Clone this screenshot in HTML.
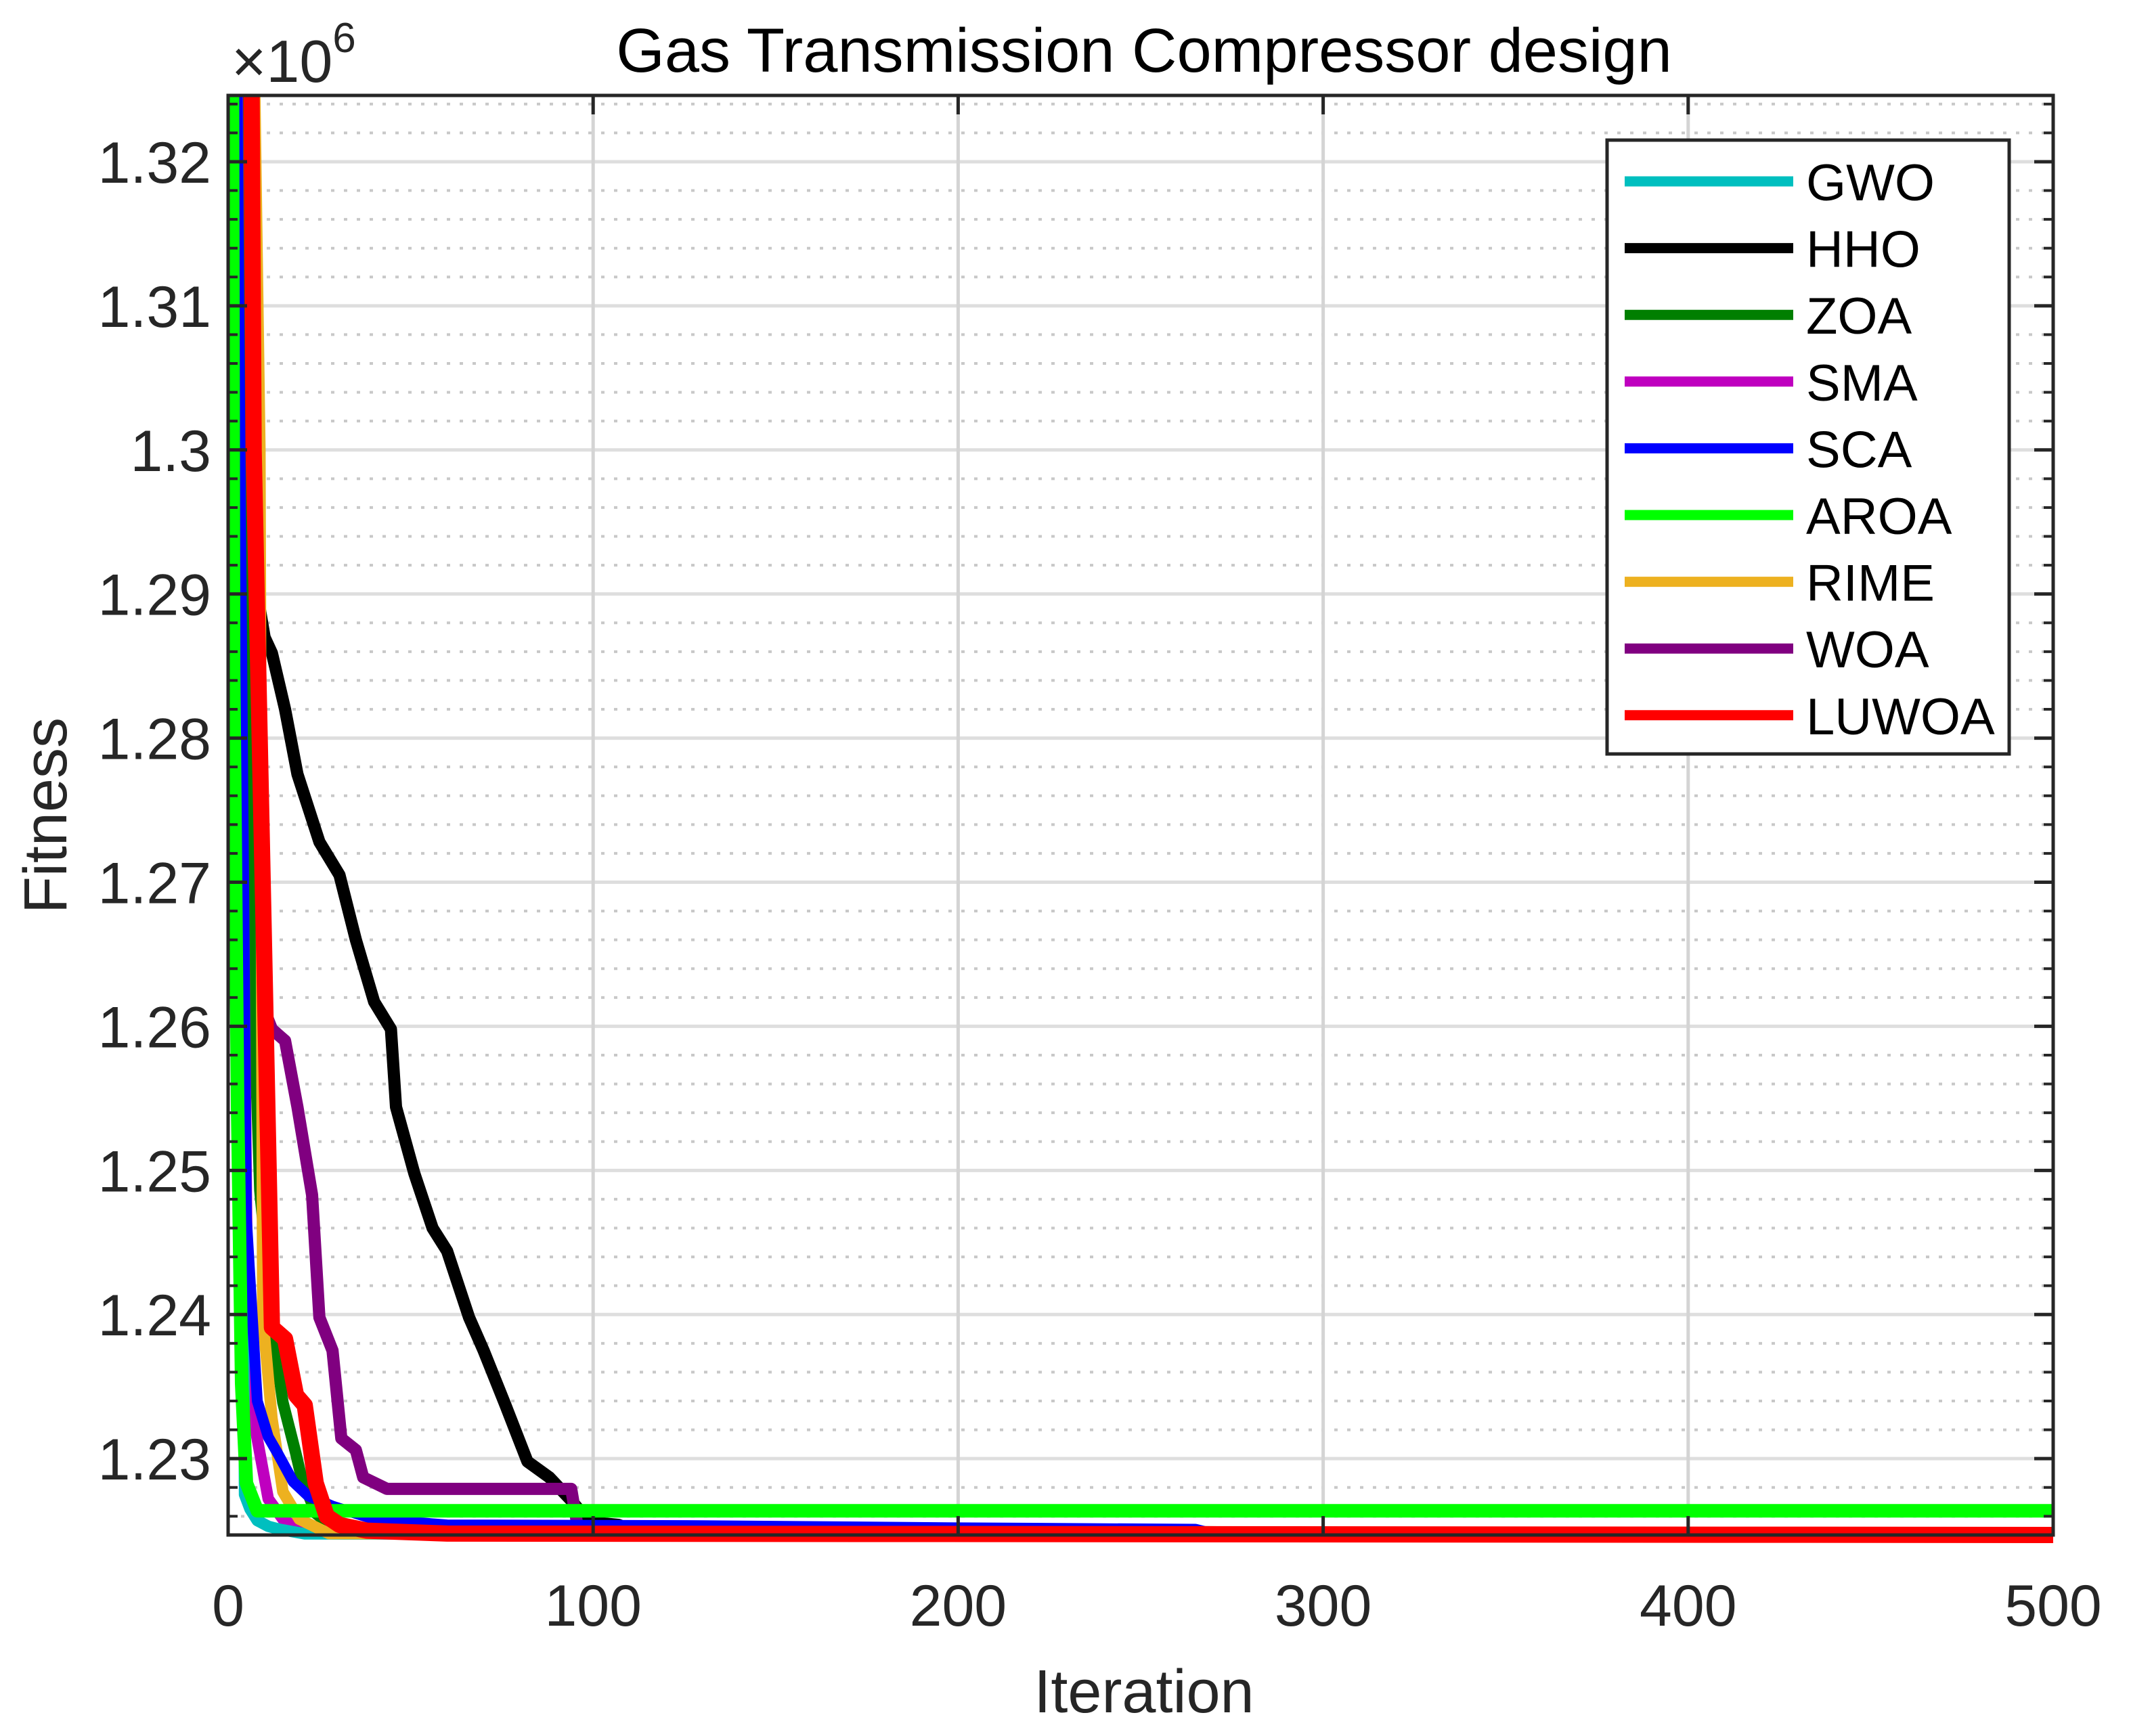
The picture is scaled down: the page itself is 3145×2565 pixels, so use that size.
<!DOCTYPE html>
<html><head><meta charset="utf-8"><style>
html,body{margin:0;padding:0;background:#fff;}
svg{display:block;font-family:"Liberation Sans",Arial,sans-serif;}
</style></head><body>
<svg id="chart" width="3145" height="2565" viewBox="0 0 3145 2565" xmlns="http://www.w3.org/2000/svg">
<rect x="0" y="0" width="3145" height="2565" fill="#fff"/>
<g id="grid"></g>
<g id="series"></g>
<g id="axes"></g>
<text x="1690" y="106" font-size="92" text-anchor="middle" fill="#000">Gas Transmission Compressor design</text>
<text x="1690" y="2530" font-size="90" text-anchor="middle" fill="#262626">Iteration</text>
<text transform="translate(98,1205) rotate(-90)" font-size="90" text-anchor="middle" fill="#262626">Fitness</text>
<text x="342" y="121" font-size="88" fill="#262626">×10<tspan dy="-44" font-size="62">6</tspan></text>
<g id="legend"></g>
</svg>
<script>
const xTicks=[0,100,200,300,400,500];
const yTicks=[1.23,1.24,1.25,1.26,1.27,1.28,1.29,1.30,1.31,1.32];
const yTickLabels=["1.23","1.24","1.25","1.26","1.27","1.28","1.29","1.3","1.31","1.32"];
const seriesNames=["GWO","HHO","ZOA","SMA","SCA","AROA","RIME","WOA","LUWOA"];
const seriesColors=["#00BFBF","#000000","#007F00","#BF00BF","#0000FF","#00FF00","#EDB120","#800080","#FF0000"];
const gwoX=[1,3,4.5,6,8,11,14,21,500];
const gwoY=[1.40,1.29,1.2275,1.2265,1.2257,1.2253,1.2251,1.22478,1.22472];
const hhoX=[1,4,5,8,10,12,15.6,19,25,30.5,35,40,44.6,46,51,56,60,66,70,76,82,88,94,99,107,110,200,340,500];
const hhoY=[1.40,1.34,1.32,1.29,1.287,1.2859,1.282,1.2775,1.2728,1.2705,1.266,1.2617,1.2598,1.2544,1.2498,1.246,1.2444,1.2398,1.2375,1.2337,1.2298,1.2287,1.2271,1.2256,1.2254,1.2251,1.2250,1.22478,1.22478];
const zoaX=[1,4,6,8.7,13,15,18.5,20,24,30,500];
const zoaY=[1.40,1.30,1.27,1.2486,1.2375,1.2339,1.2304,1.2288,1.2262,1.2250,1.22474];
const smaX=[1,3,5.4,7.8,11,15,20,40,500];
const smaY=[1.40,1.30,1.2375,1.2316,1.2272,1.2258,1.2250,1.2249,1.22478];
const scaX=[1,2.6,5,8,11,13.5,17.8,22,28.6,40,60,130,200,265,270,500];
const scaY=[1.40,1.32,1.2467,1.2340,1.2315,1.2304,1.2284,1.2274,1.2267,1.2258,1.2254,1.22535,1.2252,1.2251,1.22478,1.22478];
const aroaX=[1,1.5,2.6,3.7,5,8,500];
const aroaY=[1.35,1.285,1.2544,1.2352,1.2283,1.22638,1.22638];
const rimeX=[1,7,8.7,9.5,12,15,19.5,27.6,500];
const rimeY=[1.40,1.33,1.30,1.2398,1.2328,1.2277,1.2258,1.2248,1.22476];
const woaX=[1,4.5,7,12,15.6,19,23,25,28.6,31,35,37,43.5,94,96,500];
const woaY=[1.40,1.275,1.263,1.2598,1.259,1.2544,1.2483,1.2398,1.2375,1.2314,1.2306,1.2287,1.2279,1.2279,1.2249,1.22476];
const luwoaX=[1,6.3,7,10,12,15.6,18.6,21,24,27,30.5,38,60,500];
const luwoaY=[1.40,1.33,1.30,1.2636,1.2391,1.2383,1.2344,1.2337,1.2283,1.2260,1.2254,1.2250,1.2248,1.2247];
const allX=[gwoX,hhoX,zoaX,smaX,scaX,aroaX,rimeX,woaX,luwoaX];
const allY=[gwoY,hhoY,zoaY,smaY,scaY,aroaY,rimeY,woaY,luwoaY];

const NS="http://www.w3.org/2000/svg";
const L=337,R=3033,T=141,B=2268;
const xMin=0,xMax=500,yMin=1.2247,yMax=1.3246;
function sx(v){return L+(v-xMin)/(xMax-xMin)*(R-L);}
function sy(v){return B-(v-yMin)/(yMax-yMin)*(B-T);}
function mk(tag,attrs,parent){const e=document.createElementNS(NS,tag);for(const k in attrs)e.setAttribute(k,attrs[k]);parent.appendChild(e);return e;}

const grid=document.getElementById('grid');
const axes=document.getElementById('axes');
for(let k=0;k<60;k++){
  const v=1.226+k*0.002;
  if(v>yMax)break;
  if(Math.abs(Math.round(v*100)-v*100)<1e-6)continue;
  const ln=mk('line',{x1:L,x2:R,y1:sy(v),y2:sy(v),stroke:'#c8c8c8','stroke-width':4,'stroke-dasharray':'5 14'},grid);
  
  
  const t1=mk('line',{x1:L,x2:L+14,y1:sy(v),y2:sy(v),stroke:'#262626','stroke-width':4},axes);
  
  
  const t2=mk('line',{x1:R,x2:R-14,y1:sy(v),y2:sy(v),stroke:'#262626','stroke-width':4},axes);
  
  
}
yTicks.forEach((v,i)=>{
  const g=mk('line',{x1:L,x2:R,y1:sy(v),y2:sy(v),stroke:'#dedede','stroke-width':5},grid);
  
  
  const t1=mk('line',{x1:L,x2:L+28,y1:sy(v),y2:sy(v),stroke:'#262626','stroke-width':5},axes);
  
  
  const t2=mk('line',{x1:R,x2:R-28,y1:sy(v),y2:sy(v),stroke:'#262626','stroke-width':5},axes);
  
  
  const lb=mk('text',{x:312,y:sy(v)+31,'font-size':86,'text-anchor':'end',fill:'#262626'},axes);
  lb.textContent=yTickLabels[i];
  
  
});
xTicks.forEach(v=>{
  const g=mk('line',{x1:sx(v),x2:sx(v),y1:T,y2:B,stroke:'#d4d4d4','stroke-width':5},grid);
  
  
  const t1=mk('line',{x1:sx(v),x2:sx(v),y1:B,y2:B-28,stroke:'#262626','stroke-width':5},axes);
  
  
  const t2=mk('line',{x1:sx(v),x2:sx(v),y1:T,y2:T+28,stroke:'#262626','stroke-width':5},axes);
  
  
  const lb=mk('text',{x:sx(v),y:2402,'font-size':86,'text-anchor':'middle',fill:'#262626'},axes);
  lb.textContent=String(v);
  
  
});
const frame=mk('rect',{x:L,y:T,width:R-L,height:B-T,fill:'none',stroke:'#262626','stroke-width':5},axes);



const defs=mk('defs',{},document.getElementById('chart'));
const cp=mk('clipPath',{id:'plotclip'},defs);
mk('rect',{x:L,y:T,width:R-L+12,height:B-T+20},cp);
const sg=document.getElementById('series');
sg.setAttribute('clip-path','url(#plotclip)');
const widths=[17,18,17,17,16,20,17,18,24];
const order=[1,7,2,3,0,6,4,5,8];
order.forEach(i=>{
  const xs=allX[i],ys=allY[i];
  const pts=xs.map((x,j)=>sx(x).toFixed(1)+','+sy(ys[j]).toFixed(1)).join(' ');
  const pl=mk('polyline',{points:pts,fill:'none',stroke:seriesColors[i],'stroke-width':widths[i],'stroke-linejoin':'round'},sg);
  
  
});

const lg=document.getElementById('legend');
const box=mk('rect',{x:2374,y:207,width:594,height:907,fill:'#fff',stroke:'#262626','stroke-width':5},lg);


seriesNames.forEach((n,i)=>{
  const y=268+i*98.6;
  const ln=mk('line',{x1:2400,x2:2649,y1:y,y2:y,stroke:seriesColors[i],'stroke-width':15},lg);
  
  
  const tx=mk('text',{x:2668,y:y+28,'font-size':76,fill:'#000'},lg);
  tx.textContent=n;
  
  
});
</script>
</body></html>
